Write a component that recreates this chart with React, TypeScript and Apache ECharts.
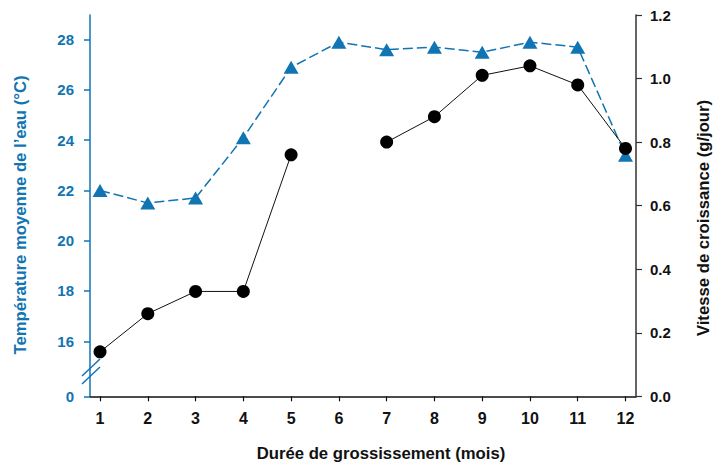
import React, { useEffect, useRef } from "react";
import * as echarts from "echarts";

const months = [1, 2, 3, 4, 5, 6, 7, 8, 9, 10, 11, 12];
const temperature = [22.0, 21.5, 21.7, 24.1, 26.9, 27.9, 27.6, 27.7, 27.5, 27.9, 27.7, 23.4];
const growth: (number | null)[] = [0.14, 0.26, 0.33, 0.33, 0.76, null, 0.8, 0.88, 1.01, 1.04, 0.98, 0.78];
const tempTicks = [16, 18, 20, 22, 24, 26, 28];
const tempAxisMin = 13.81;
const tempAxisMax = 28.98;

const BLUE = "#1174b3";
const FONT = "'Liberation Sans', Arial, sans-serif";

export default function App() {
  const ref = useRef<HTMLDivElement>(null);
  useEffect(() => {
    if (!ref.current) return;
    const chart = echarts.init(ref.current, null, { renderer: "svg" });
    const labelStyle = { fontFamily: FONT, fontWeight: "bold" as const, fontSize: 15 };
    chart.setOption({
      animation: false,
      backgroundColor: "#ffffff",
      grid: { left: 90, right: 77, top: 15, bottom: 66.7, containLabel: false },
      xAxis: {
        type: "value",
        min: 0.79,
        max: 12.22,
        splitLine: { show: false },
        axisLine: { show: true, lineStyle: { color: "#111", width: 1.5 } },
        axisTick: { show: true, customValues: months, length: 5, lineStyle: { color: "#111", width: 1.2 } },
        axisLabel: { customValues: months, color: "#111", margin: 14, ...labelStyle, fontSize: 16 },
      },
      yAxis: [
        {
          type: "value",
          position: "left",
          min: tempAxisMin,
          max: tempAxisMax,
          splitLine: { show: false },
          axisLine: { show: true, lineStyle: { color: BLUE, width: 1.5 } },
          axisTick: { show: true, customValues: [tempAxisMin, ...tempTicks], length: 6, lineStyle: { color: BLUE, width: 1.5 } },
          axisLabel: {
            customValues: [tempAxisMin, ...tempTicks],
            color: BLUE,
            margin: 16,
            formatter: (v: number) => (v < 15 ? "0" : String(Math.round(v))),
            ...labelStyle,
          },
        },
        {
          type: "value",
          position: "right",
          min: 0,
          max: 1.2,
          interval: 0.2,
          splitLine: { show: false },
          axisLine: { show: true, lineStyle: { color: "#333", width: 1.5 } },
          axisTick: { show: true, length: 6, lineStyle: { color: "#333", width: 1.2 } },
          axisLabel: { color: "#111", margin: 14, formatter: (v: number) => v.toFixed(1), ...labelStyle },
        },
      ],
      series: [
        {
          name: "Température",
          type: "line",
          yAxisIndex: 0,
          data: months.map((m, i) => [m, temperature[i]]),
          symbol: "triangle",
          symbolSize: [15, 13],
          itemStyle: { color: BLUE },
          lineStyle: { color: BLUE, width: 1.5, type: [10, 4] },
          z: 2,
        },
        {
          name: "Vitesse",
          type: "line",
          yAxisIndex: 1,
          data: months.map((m, i) => [m, growth[i] === null ? "-" : growth[i]]),
          connectNulls: false,
          symbol: "circle",
          symbolSize: 13,
          itemStyle: { color: "#000" },
          lineStyle: { color: "#111", width: 1 },
          z: 3,
        },
      ],
      graphic: [
        { type: "line", shape: { x1: 82, y1: 376, x2: 100, y2: 359 }, style: { stroke: BLUE, lineWidth: 1.5 } },
        { type: "line", shape: { x1: 82, y1: 384, x2: 100, y2: 367 }, style: { stroke: BLUE, lineWidth: 1.5 } },
        {
          type: "text",
          x: 20,
          y: 215,
          rotation: Math.PI / 2,
          style: {
            text: "Température moyenne de l’eau (°C)",
            fill: BLUE,
            font: `bold 16.7px ${FONT}`,
            align: "center",
            verticalAlign: "middle",
          },
        },
        {
          type: "text",
          x: 703,
          y: 218,
          rotation: Math.PI / 2,
          style: {
            text: "Vitesse de croissance (g/jour)",
            fill: "#111",
            font: `bold 16.7px ${FONT}`,
            align: "center",
            verticalAlign: "middle",
          },
        },
        {
          type: "text",
          x: 381,
          y: 453,
          style: {
            text: "Durée de grossissement (mois)",
            fill: "#111",
            font: `bold 16.7px ${FONT}`,
            align: "center",
            verticalAlign: "middle",
          },
        },
      ],
    });
    return () => chart.dispose();
  }, []);
  return <div ref={ref} style={{ width: 713, height: 463, position: "fixed", left: 0, top: 0 }} />;
}
